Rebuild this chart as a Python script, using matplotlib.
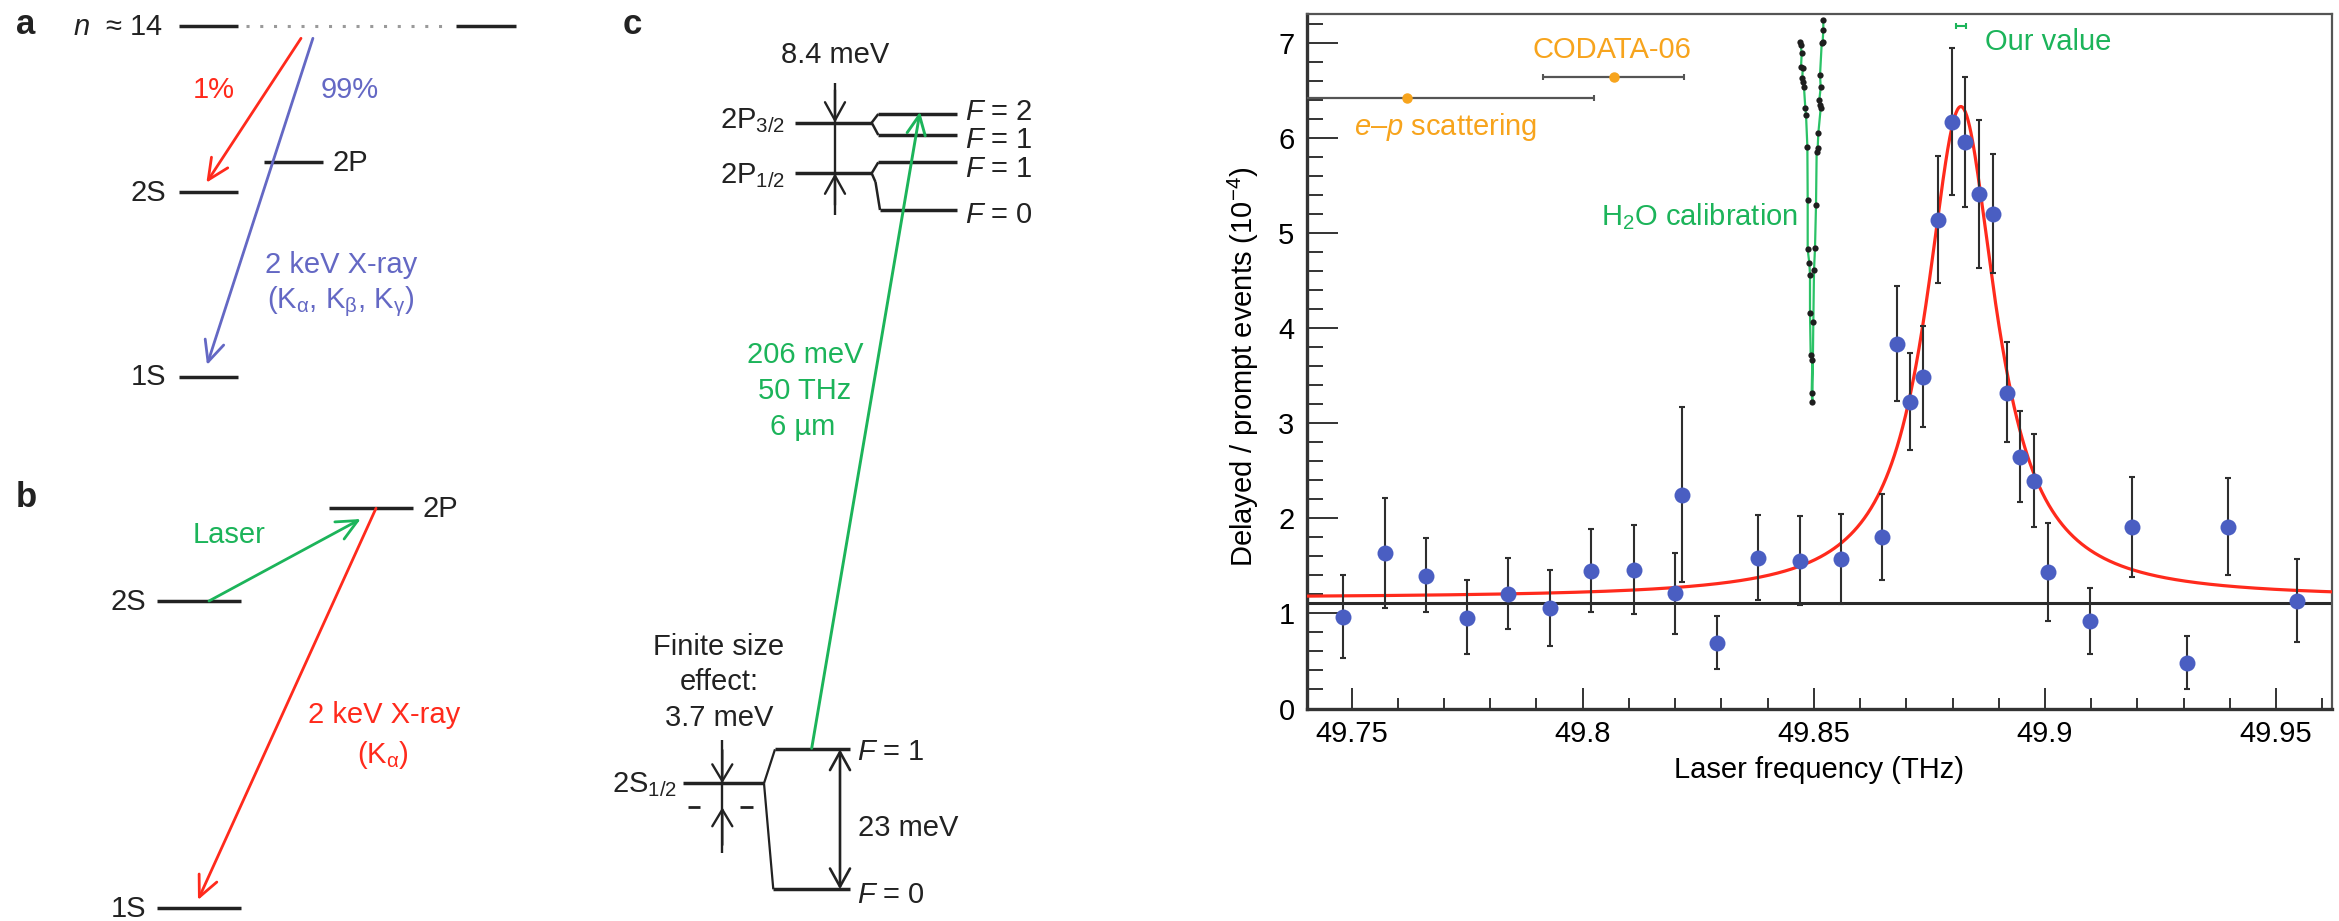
import numpy as np
import matplotlib
matplotlib.use('Agg')
import matplotlib.pyplot as plt
from matplotlib.ticker import MultipleLocator, FixedLocator

plt.rcParams['font.family'] = ['Liberation Sans', 'DejaVu Sans']
plt.rcParams['mathtext.fontset'] = 'custom'
plt.rcParams['mathtext.rm'] = 'Liberation Sans'
plt.rcParams['mathtext.it'] = 'Liberation Sans:italic'
plt.rcParams['mathtext.bf'] = 'Liberation Sans:bold'
plt.rcParams['mathtext.sf'] = 'Liberation Sans'

# ---------------- data (panel d: resonance scan) ----------------
freq = [49.7481, 49.7572, 49.7661, 49.7750, 49.7839, 49.7930, 49.8019, 49.8110,
        49.8199, 49.8214, 49.8290, 49.8379, 49.8469, 49.8558, 49.8648, 49.8679,
        49.8708, 49.8737, 49.8769, 49.8798, 49.8828, 49.8858, 49.8888, 49.8917,
        49.8947, 49.8977, 49.9007, 49.9097, 49.9188, 49.9307, 49.9395, 49.9546]
ratio = [0.965, 1.632, 1.393, 0.955, 1.204, 1.053, 1.446, 1.456,
         1.218, 2.245, 0.685, 1.580, 1.551, 1.572, 1.807, 3.833,
         3.223, 3.489, 5.137, 6.170, 5.953, 5.407, 5.203, 3.314,
         2.648, 2.392, 1.439, 0.923, 1.905, 0.482, 1.912, 1.134]
ratio_low = [0.53, 1.06, 1.01, 0.57, 0.84, 0.66, 1.01, 0.99,
             0.78, 1.33, 0.42, 1.14, 1.09, 1.10, 1.35, 3.23,
             2.72, 2.96, 4.47, 5.40, 5.27, 4.63, 4.58, 2.80,
             2.17, 1.91, 0.92, 0.57, 1.38, 0.21, 1.40, 0.70]
ratio_high = [1.40, 2.21, 1.79, 1.35, 1.58, 1.46, 1.89, 1.93,
              1.64, 3.17, 0.97, 2.03, 2.02, 2.05, 2.26, 4.44,
              3.74, 4.02, 5.81, 6.95, 6.64, 6.19, 5.83, 3.85,
              3.13, 2.89, 1.95, 1.27, 2.43, 0.76, 2.42, 1.57]

# Lorentzian fit parameters and background level
fit_center = 49.8818
fit_fwhm = 0.0184
fit_peak = 6.33
fit_base = 1.16
background = 1.112

# H2O calibration line (dots connected by a line)
h2o_freq = [49.84701, 49.84715, 49.84737, 49.84723, 49.84759, 49.84751, 49.84773,
            49.84787, 49.84816, 49.84831, 49.84860, 49.84867, 49.84867, 49.84903,
            49.84917, 49.84917, 49.84932, 49.84968, 49.84953, 49.84968,
            49.84989, 49.85004, 49.85025, 49.85047, 49.85061, 49.85083, 49.85097,
            49.85148, 49.85134, 49.85119, 49.85148, 49.85134, 49.85170, 49.85191,
            49.85205, 49.85205]
h2o_val = [7.012, 6.977, 6.889, 6.749, 6.731, 6.626, 6.591,
           6.532, 6.311, 6.241, 5.908, 5.347, 4.828, 4.681,
           4.558, 4.155, 3.717, 3.665, 3.314, 3.226,
           4.068, 4.611, 4.839, 5.294, 5.855, 5.890, 6.048,
           6.311, 6.346, 6.399, 6.532, 6.661, 6.994, 7.012,
           7.135, 7.240]

# reference values (horizontal error bars)
ref_names = ['e–p scattering', 'CODATA-06', 'Our value']
ref_freq = [49.7619, 49.8067, 49.8818]
ref_err = [0.0406, 0.0152, 0.00105]
ref_y = [6.423, 6.644, 7.177]

xtick_vals = [49.75, 49.8, 49.85, 49.9, 49.95]
xtick_labels = ['49.75', '49.8', '49.85', '49.9', '49.95']
ytick_vals = [0, 1, 2, 3, 4, 5, 6, 7]
ytick_labels = ['0', '1', '2', '3', '4', '5', '6', '7']

# ---------------- styling ----------------
W, H = 2339, 921
FS = 21
RED = '#FF2A1C'
VIOLET = '#6468C4'
GREEN = '#1CB45A'
BLK = '#222222'
ORANGE = '#F7A41D'
DOT = '#4A5EC2'

fig = plt.figure(figsize=(W / 100, H / 100), dpi=100)

# schematic panels (a, b, c) drawn on a pixel-unit overlay axes
dg = fig.add_axes([0, 0, 1, 1])
dg.set_xlim(0, W)
dg.set_ylim(H, 0)
dg.axis('off')
dg.patch.set_alpha(0)


def level(x0, x1, y, lw=2.5, color=BLK, **kw):
    dg.plot([x0, x1], [y, y], color=color, lw=lw, solid_capstyle='butt', **kw)


def seg(x0, y0, x1, y1, lw=1.6, color=BLK):
    dg.plot([x0, x1], [y0, y1], color=color, lw=lw, solid_capstyle='butt')


def arrow(x0, y0, x1, y1, color, lw=2.0, hl=0.75, hw=0.35, style='->'):
    dg.annotate('', xy=(x1, y1), xytext=(x0, y0),
                arrowprops=dict(arrowstyle=f'{style},head_length={hl},head_width={hw}',
                                color=color, lw=lw, shrinkA=0, shrinkB=0,
                                mutation_scale=20))


def txt(x, y, s, ha='center', va='center', color=BLK, size=FS, **kw):
    dg.text(x, y, s, ha=ha, va=va, color=color, fontsize=size, **kw)


# ----- panel a -----
txt(26, 25, 'a', fontweight='bold', size=25)
txt(163, 27, r'$n$  ≈ 14', ha='right')
level(178.6, 237.5, 25.7)
dg.plot([246, 452], [25.7, 25.7], color='#9a9a9a', lw=2.2, linestyle=(0, (1, 3.5)))
level(456.4, 516, 25.7)
level(264, 323, 162.3)
txt(332, 163, '2P', ha='left')
level(178.6, 237.5, 192.3)
txt(166, 193, '2S', ha='right')
level(178.6, 237.5, 376.7)
txt(166, 377, '1S', ha='right')
arrow(301, 38.3, 206.4, 182.7, RED)
arrow(312.9, 38.3, 207, 365, VIOLET)
txt(214, 90, '1%', color=RED)
txt(350, 90, '99%', color=VIOLET)
txt(341, 265, '2 keV X-ray', color=VIOLET)
txt(340.5, 302, r'(K$_{\mathrm{α}}$, K$_{\mathrm{β}}$, K$_{\mathrm{γ}}$)', color=VIOLET)

# ----- panel b -----
txt(26, 497, 'b', fontweight='bold', size=25)
level(328.6, 412.5, 508.3)
txt(423, 509, '2P', ha='left')
level(157, 241, 601)
txt(146.4, 602, '2S', ha='right')
level(157, 241, 908.3)
txt(146.4, 909, '1S', ha='right')
arrow(209, 601, 360.7, 519, GREEN)
txt(229.5, 535, 'Laser', color=GREEN)
arrow(376, 508.3, 198, 900, RED)
txt(383.8, 715, '2 keV X-ray', color=RED)
txt(383, 755, r'(K$_{\mathrm{α}}$)', color=RED)

# ----- panel c -----
txt(632, 25, 'c', fontweight='bold', size=25)
txt(835, 55, '8.4 meV')
# 2P3/2 and hyperfine components
level(795, 871.7, 122.7)
seg(871.7, 122.7, 878.3, 114, lw=1.8)
seg(871.7, 122.7, 878.3, 135, lw=1.8)
level(878.3, 956.7, 114)
level(878.3, 956.7, 135)
# 2P1/2 and hyperfine components
level(795, 871.7, 173.3)
seg(871.7, 173.3, 878.3, 162.3, lw=1.8)
seg(871.7, 173.3, 875.5, 182, lw=1.8)
seg(875.5, 182, 880, 210, lw=1.8)
level(878.3, 956.7, 162.3)
level(880, 956.7, 210)
txt(785, 128.3, r'2P$_{3/2}$', ha='right', va='baseline')
txt(785, 183.3, r'2P$_{1/2}$', ha='right', va='baseline')
txt(965, 120, r'$F$ = 2', ha='left', va='baseline')
txt(965, 148.3, r'$F$ = 1', ha='left', va='baseline')
txt(965, 176.7, r'$F$ = 1', ha='left', va='baseline')
txt(965, 223.3, r'$F$ = 0', ha='left', va='baseline')
# fine-structure dimension arrows
seg(835, 83.3, 835, 215, lw=1.7)
arrow(835, 90, 835, 122.7, BLK, lw=1.7, hl=0.65, hw=0.36)
arrow(835, 205, 835, 173.3, BLK, lw=1.7, hl=0.65, hw=0.36)
# laser transition
arrow(811.7, 748.3, 920, 111.7, GREEN, lw=2.1, hl=0.7, hw=0.33)
txt(805, 355, '206 meV', color=GREEN)
txt(805, 391, '50 THz', color=GREEN)
txt(803, 427, '6 µm', color=GREEN)
# 2S1/2
txt(719, 646.7, 'Finite size')
txt(719, 681.7, 'effect:')
txt(719, 718.3, '3.7 meV')
level(683.3, 764, 783.3)
txt(676.7, 791.7, r'2S$_{1/2}$', ha='right', va='baseline')
level(688, 700, 807.3, lw=2.0)
level(740, 753, 807.3, lw=2.0)
seg(722.3, 740, 722.3, 852.7, lw=1.7)
arrow(722.3, 750, 722.3, 783.3, BLK, lw=1.7, hl=0.6, hw=0.36)
arrow(722.3, 845, 722.3, 807.3, BLK, lw=1.7, hl=0.6, hw=0.36)
seg(764, 783.3, 775, 749.3, lw=1.6)
seg(764, 783.3, 773.3, 889.3, lw=1.6)
level(775, 850, 749.3)
level(773.3, 850, 889.3)
txt(856.7, 760, r'$F$ = 1', ha='left', va='baseline')
txt(856.7, 903.3, r'$F$ = 0', ha='left', va='baseline')
arrow(840, 749.3, 840, 889.3, BLK, lw=1.9, hl=0.65, hw=0.36, style='<->')
txt(858.3, 828.3, '23 meV', ha='left')

# ---------------- panel d: resonance plot ----------------
x_left, x_right = 49.74037, 49.96208
ax = fig.add_axes([1307 / W, (H - 708.5) / H, 1025 / W, 694.5 / H])
ax.set_xlim(x_left, x_right)
ax.set_ylim(0, 7.303)

ax.axhline(background, color='#2a2a2a', lw=2.2, zorder=2)

xf = np.linspace(x_left, x_right, 1500)
g = fit_fwhm / 2
lor = fit_base + (fit_peak - fit_base) * g ** 2 / ((xf - fit_center) ** 2 + g ** 2)
ax.plot(xf, lor, color=RED, lw=2.3, zorder=3)

f_arr = np.array(freq)
r_arr = np.array(ratio)
yerr = [r_arr - np.array(ratio_low), np.array(ratio_high) - r_arr]
ax.errorbar(f_arr, r_arr, yerr=yerr, fmt='none', ecolor='#2e2e2e', elinewidth=1.5,
            capsize=2, capthick=1.5, zorder=4)
ax.plot(f_arr, r_arr, 'o', ms=11.5, color=DOT, mec='none', zorder=5)

# H2O calibration
ax.plot(h2o_freq, h2o_val, '-', color='#2BC266', lw=1.6, zorder=4)
ax.plot(h2o_freq, h2o_val, 'o', color='#1e1e1e', ms=4.5, mec='none', zorder=5)

# reference values
ax.errorbar(ref_freq[:2], ref_y[:2], xerr=ref_err[:2], fmt='o', ms=6.5,
            mfc=ORANGE, mec=ORANGE, ecolor='#555555', elinewidth=1.6,
            capsize=2.5, capthick=1.5, zorder=5)
ax.errorbar(ref_freq[2:], ref_y[2:], xerr=ref_err[2:], fmt='none',
            ecolor=GREEN, elinewidth=1.5, capsize=2, capthick=1.5, zorder=5)

ax.text(49.8063, 6.924, 'CODATA-06', color=ORANGE, fontsize=FS, ha='center', va='center')
ax.text(49.7505, 6.115, r'$e$–$p$ scattering', color=ORANGE, fontsize=FS, ha='left', va='center')
ax.text(49.8465, 5.171, r'H$_2$O calibration', color=GREEN, fontsize=FS, ha='right', va='center')
ax.text(49.8870, 7.012, 'Our value', color=GREEN, fontsize=FS, ha='left', va='center')

ax.xaxis.set_major_locator(FixedLocator(xtick_vals))
ax.set_xticklabels(xtick_labels)
ax.xaxis.set_minor_locator(MultipleLocator(0.01))
ax.yaxis.set_major_locator(FixedLocator(ytick_vals))
ax.set_yticklabels(ytick_labels)
ax.yaxis.set_minor_locator(MultipleLocator(0.2))

ax.tick_params(axis='x', which='major', direction='in', length=15, width=1.4,
               labelsize=FS, pad=8, top=False, color='#333333')
ax.tick_params(axis='x', which='minor', direction='in', length=8, width=1.4,
               top=False, color='#333333')
ax.tick_params(axis='y', which='major', direction='in', length=22, width=1.4,
               labelsize=FS, pad=9, right=False, color='#333333')
ax.tick_params(axis='y', which='minor', direction='in', length=11.5, width=1.4,
               right=False, color='#333333')

for side in ['left', 'bottom']:
    ax.spines[side].set_linewidth(2.4)
    ax.spines[side].set_color('#333333')
for side in ['top', 'right']:
    ax.spines[side].set_linewidth(1.6)
    ax.spines[side].set_color('#555555')

ax.set_xlabel('Laser frequency (THz)', fontsize=FS, labelpad=6)
ax.set_ylabel(r'Delayed / prompt events (10$^{-4}$)', fontsize=FS)
ax.yaxis.label.set_va('center')
ax.yaxis.set_label_coords((1243 - 1307) / 1025, (708.5 - 367) / 694.5)

fig.savefig('out.png', dpi=100)
